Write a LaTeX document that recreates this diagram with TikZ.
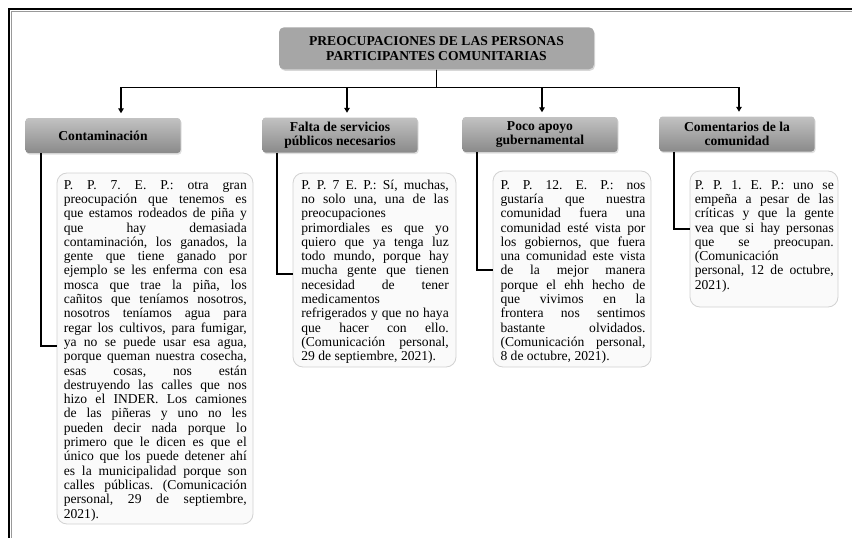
\documentclass[tikz,border=0pt]{standalone}
\usepackage{fontspec}
\setmainfont{Liberation Serif}
\usetikzlibrary{shadows,arrows.meta,calc}
\definecolor{titlegray}{HTML}{A6A6A6}
\definecolor{cattop}{HTML}{C2C2C2}
\definecolor{catbot}{HTML}{8A8A8A}
\definecolor{boxfill}{HTML}{FAFAFA}
\definecolor{boxline}{HTML}{D2D2D2}
\newlength\jw
\newcommand\jl[1]{\hbox to \jw{#1}}
\newcommand\fl[1]{\hbox to \jw{#1\hfil}}
\newcommand\qsetup[1]{\setlength\jw{#1}\baselineskip=14.3pt\lineskiplimit=-100pt\relax}
\frenchspacing
\begin{document}
\begin{tikzpicture}[x=1pt,y=-1pt,
  font=\fontsize{13.6}{14.3}\selectfont,
  titlebox/.style={fill=titlegray, rounded corners=5pt, minimum width=315pt,
    minimum height=42pt, align=center, inner sep=2pt,
    font=\fontsize{13.6}{15.3}\selectfont\bfseries,
    drop shadow={opacity=0.3, shadow xshift=1pt, shadow yshift=-1.5pt}},
  catbox/.style={top color=cattop, bottom color=catbot, rounded corners=3pt,
    minimum width=155pt, minimum height=35pt, align=center, inner sep=2pt,
    font=\fontsize{13.6}{14.3}\selectfont\bfseries,
    drop shadow={opacity=0.25, shadow xshift=1pt, shadow yshift=-1.5pt}},
  quotebox/.style={draw=boxline, fill=boxfill, line width=0.8pt,
    rounded corners=10pt, inner sep=0pt},
  quotetext/.style={anchor=base west, inner sep=0pt},
  conn/.style={line width=1.8pt, black},
  arr/.style={conn, -{Triangle[length=5pt,width=5.5pt]}, shorten >=4.5pt},
]
\fill[white] (0,0) rectangle (852,538);
\useasboundingbox (0,0) rectangle (852,538);
% frame
\draw[line width=1.3pt, black!40] (11.3,538) -- (11.3,11.3) -- (852,11.3);
\draw[line width=2.2pt] (9.3,538) -- (9.3,9.3) -- (852,9.3);

% title and categories
\node[titlebox] (title) at (436.5,48.3) {PREOCUPACIONES DE LAS PERSONAS\\PARTICIPANTES COMUNITARIAS};
\node[catbox] (c1) at (103,135.5) {Contaminación};
\node[catbox] (c2) at (340,135) {Falta de servicios\\públicos necesarios};
\node[catbox] (c3) at (540,134.5) {Poco apoyo\\gubernamental};
\node[catbox] (c4) at (737,134) {Comentarios de la\\comunidad};

% quote boxes
\node[quotebox, minimum width=196pt, minimum height=351pt] (t1) at (155,348.5) {};
\node[quotebox, minimum width=163pt, minimum height=194pt] (t2) at (374.5,270) {};
\node[quotebox, minimum width=158pt, minimum height=196pt] (t3) at (572,269) {};
\node[quotebox, minimum width=148pt, minimum height=136pt] (t4) at (764,239) {};

\node[quotetext] (q1) at ([xshift=7pt,yshift=-16.5pt]t1.north west) {\vtop{\qsetup{183pt}%
\jl{P. P. 7. E. P.: otra gran}
\jl{preocupación que tenemos es}
\jl{que estamos rodeados de piña y}
\jl{que hay demasiada}
\jl{contaminación, los ganados, la}
\jl{gente que tiene ganado por}
\jl{ejemplo se les enferma con esa}
\jl{mosca que trae la piña, los}
\jl{cañitos que teníamos nosotros,}
\jl{nosotros teníamos agua para}
\jl{regar los cultivos, para fumigar,}
\jl{ya no se puede usar esa agua,}
\jl{porque queman nuestra cosecha,}
\jl{esas cosas, nos están}
\jl{destruyendo las calles que nos}
\jl{hizo el INDER. Los camiones}
\jl{de las piñeras y uno no les}
\jl{pueden decir nada porque lo}
\jl{primero que le dicen es que el}
\jl{único que los puede detener ahí}
\jl{es la municipalidad porque son}
\jl{calles públicas. (Comunicación}
\jl{personal, 29 de septiembre,}
\fl{2021).}}};

\node[quotetext] (q2) at ([xshift=8.5pt,yshift=-16.5pt]t2.north west) {\vtop{\qsetup{147.5pt}%
\jl{P. P. 7 E. P.: Sí, muchas,}
\jl{no solo una, una de las}
\fl{preocupaciones}
\jl{primordiales es que yo}
\jl{quiero que ya tenga luz}
\jl{todo mundo, porque hay}
\jl{mucha gente que tienen}
\jl{necesidad de tener}
\fl{medicamentos}
\jl{refrigerados y que no haya}
\jl{que hacer con ello.}
\jl{(Comunicación personal,}
\fl{29 de septiembre, 2021).}}};

\node[quotetext] (q3) at ([xshift=7.7pt,yshift=-18.5pt]t3.north west) {\vtop{\qsetup{145pt}%
\jl{P. P. 12. E. P.: nos}
\jl{gustaría que nuestra}
\jl{comunidad fuera una}
\jl{comunidad esté vista por}
\jl{los gobiernos, que fuera}
\jl{una comunidad este vista}
\jl{de la mejor manera}
\jl{porque el ehh hecho de}
\jl{que vivimos en la}
\jl{frontera nos sentimos}
\jl{bastante olvidados.}
\jl{(Comunicación personal,}
\fl{8 de octubre, 2021).}}};

\node[quotetext] (q4) at ([xshift=5pt,yshift=-18.5pt]t4.north west) {\vtop{\qsetup{139pt}%
\jl{P. P. 1. E. P.: uno se}
\jl{empeña a pesar de las}
\jl{críticas y que la gente}
\jl{vea que si hay personas}
\jl{que se preocupan.}
\fl{(Comunicación}
\jl{personal, 12 de octubre,}
\fl{2021).}}};

% connectors from title to categories
\draw[arr] (title.south) -- ++(0,18) -| ([xshift=18pt]c1.north);
\draw[arr] (title.south) -- ++(0,18) -| ([xshift=7pt]c2.north);
\draw[arr] (title.south) -- ++(0,18) -| ([xshift=2pt]c3.north);
\draw[arr] (title.south) -- ++(0,18) -| ([xshift=2pt]c4.north);

% connectors from categories to quotes
\draw[conn] ([xshift=16pt]c1.south west) |- ([yshift=2.5pt]t1.west);
\draw[conn] ([xshift=14.5pt]c2.south west) |- ([yshift=-4pt]t2.west);
\draw[conn] ([xshift=14.5pt]c3.south west) |- ([yshift=-1pt]t3.west);
\draw[conn] ([xshift=14.5pt]c4.south west) |- ([yshift=10pt]t4.west);
\end{tikzpicture}
\end{document}
